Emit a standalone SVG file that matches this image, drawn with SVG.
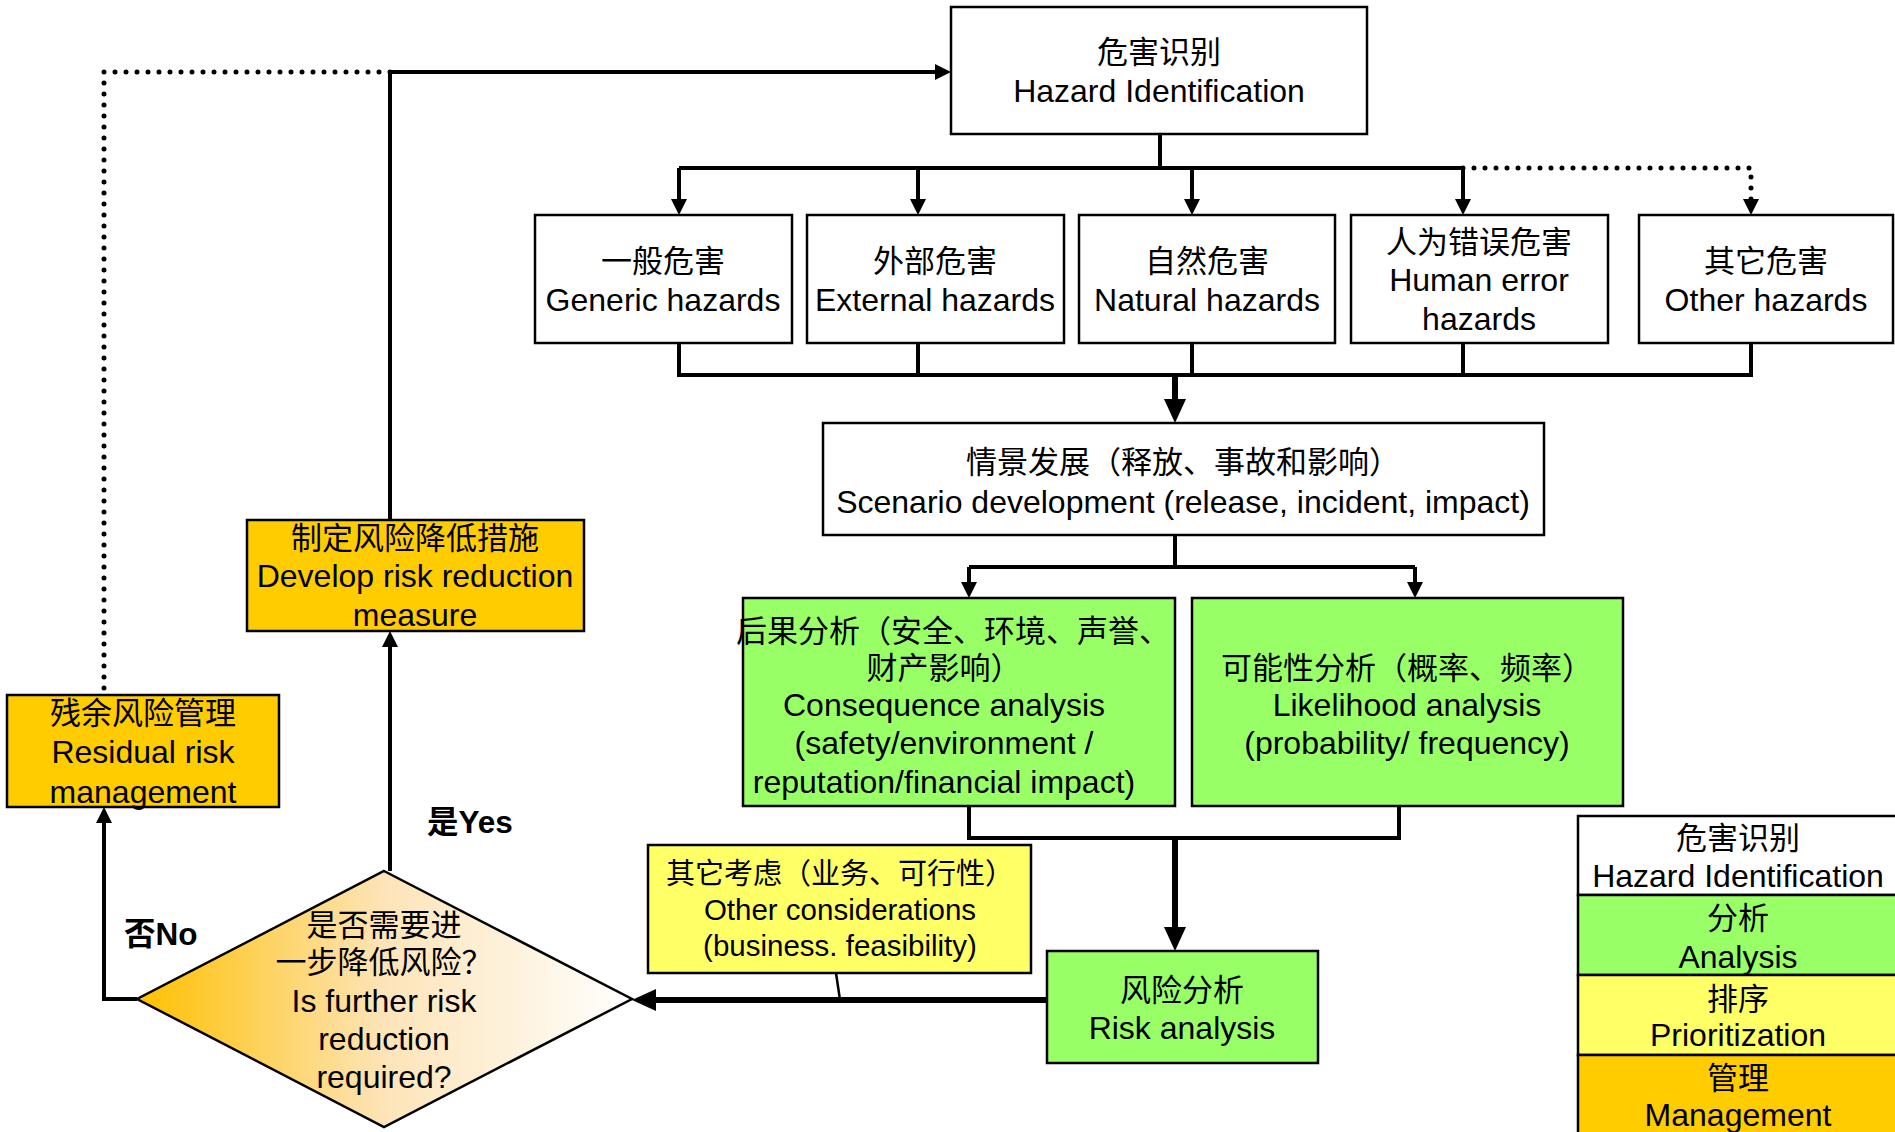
<svg xmlns="http://www.w3.org/2000/svg" width="1895" height="1132" viewBox="0 0 1895 1132">
<style>
.box{stroke:#000;stroke-width:2.5}
.w{fill:#fff}.g{fill:#99FF66}.y{fill:#FFFF66}.o{fill:#FFCC00}
text{font-family:"Liberation Sans","Noto Sans CJK SC",sans-serif;font-size:32px;fill:#000;text-anchor:middle}
.zh{font-size:31px}
.s28{font-size:29.5px}
.z28{font-size:29px}
.b{font-weight:bold;text-anchor:start;font-size:31.5px}
.c{stroke:#000;stroke-width:4;fill:none}
.th{stroke-width:6}
.dot{stroke-dasharray:0 11;stroke-linecap:round;stroke-width:5}
</style>
<defs>
<marker id="a" markerUnits="userSpaceOnUse" markerWidth="16" markerHeight="16" refX="2" refY="8" orient="auto"><path d="M0,0 L16,8 L0,16 z" fill="#000"/></marker>
<marker id="A" markerUnits="userSpaceOnUse" markerWidth="24" markerHeight="22" refX="2" refY="11" orient="auto"><path d="M0,0 L24,11 L0,22 z" fill="#000"/></marker>
<linearGradient id="dg" x1="0" y1="0" x2="1" y2="0">
<stop offset="0" stop-color="#FFC000"/><stop offset="0.5" stop-color="#FDE4B8"/><stop offset="1" stop-color="#FFFFFF"/>
</linearGradient>
</defs>

<g id="connectors">
<path class="c" d="M390,520 V72 H937" marker-end="url(#a)"/>
<path class="c dot" d="M390,72 H104 V695"/>
<path class="c" d="M1160,134 V168"/>
<path class="c" d="M679,168 H1463"/>
<path class="c" d="M679,168 V201" marker-end="url(#a)"/>
<path class="c" d="M918,168 V201" marker-end="url(#a)"/>
<path class="c" d="M1192,168 V201" marker-end="url(#a)"/>
<path class="c" d="M1463,168 V201" marker-end="url(#a)"/>
<path class="c dot" d="M1463,168 H1751 V201" marker-end="url(#a)"/>
<path class="c" d="M679,343 V375 H1751 V343 M918,343 V375 M1192,343 V375 M1463,343 V375"/>
<path class="c th" d="M1175,375 V401" marker-end="url(#A)"/>
<path class="c" d="M1175,535 V567 M969,567 H1415"/>
<path class="c" d="M969,567 V584" marker-end="url(#a)"/>
<path class="c" d="M1415,567 V584" marker-end="url(#a)"/>
<path class="c" d="M969,806 V838 H1399 V806"/>
<path class="c th" d="M1175,838 V929" marker-end="url(#A)"/>
<path class="c th" d="M1047,1000 H654" marker-end="url(#A)"/>
<path class="c" style="stroke-width:2.5" d="M836,973 L840,1000"/>
<path class="c" d="M390,871 V645" marker-end="url(#a)"/>
<path class="c" d="M137,999 H104 V821" marker-end="url(#a)"/>
</g>

<g id="hazard-identification">
<rect class="box w" x="951" y="7" width="416" height="127"/>
<text class="zh" x="1159" y="63">危害识别</text>
<text x="1159" y="102">Hazard Identification</text>
</g>
<g id="generic">
<rect class="box w" x="535" y="215" width="257" height="128"/>
<text class="zh" x="663" y="272">一般危害</text>
<text x="663" y="311">Generic hazards</text>
</g>
<g id="external">
<rect class="box w" x="807" y="215" width="257" height="128"/>
<text class="zh" x="935" y="272">外部危害</text>
<text x="935" y="311">External hazards</text>
</g>
<g id="natural">
<rect class="box w" x="1079" y="215" width="256" height="128"/>
<text class="zh" x="1207" y="272">自然危害</text>
<text x="1207" y="311">Natural hazards</text>
</g>
<g id="human">
<rect class="box w" x="1351" y="215" width="257" height="128"/>
<text class="zh" x="1479" y="253">人为错误危害</text>
<text x="1479" y="291">Human error</text>
<text x="1479" y="330">hazards</text>
</g>
<g id="other-hazards">
<rect class="box w" x="1639" y="215" width="254" height="128"/>
<text class="zh" x="1766" y="272">其它危害</text>
<text x="1766" y="311">Other hazards</text>
</g>
<g id="scenario">
<rect class="box w" x="823" y="423" width="721" height="112"/>
<text class="zh" x="1183" y="473">情景发展（释放、事故和影响）</text>
<text x="1183" y="513">Scenario development (release, incident, impact)</text>
</g>
<g id="consequence">
<rect class="box g" x="743" y="598" width="432" height="208"/>
<text class="zh" x="953" y="642">后果分析（安全、环境、声誉、</text>
<text class="zh" x="944" y="679">财产影响）</text>
<text x="944" y="716">Consequence analysis</text>
<text x="944" y="754">(safety/environment /</text>
<text x="944" y="793">reputation/financial impact)</text>
</g>
<g id="likelihood">
<rect class="box g" x="1192" y="598" width="431" height="208"/>
<text class="zh" x="1407" y="679">可能性分析（概率、频率）</text>
<text x="1407" y="716">Likelihood analysis</text>
<text x="1407" y="754">(probability/ frequency)</text>
</g>
<g id="risk-analysis">
<rect class="box g" x="1047" y="951" width="271" height="112"/>
<text class="zh" x="1182" y="1001">风险分析</text>
<text x="1182" y="1039">Risk analysis</text>
</g>
<g id="other-considerations">
<rect class="box y" x="648" y="845" width="383" height="128"/>
<text class="z28" x="840" y="884">其它考虑（业务、可行性）</text>
<text class="s28" x="840" y="920">Other considerations</text>
<text class="s28" x="840" y="956">(business. feasibility)</text>
</g>
<g id="decision">
<polygon points="384,871 632,999 384,1127 137,999" fill="url(#dg)" stroke="#000" stroke-width="2.5"/>
<text class="zh" x="384" y="936">是否需要进</text>
<text class="zh" x="384" y="973">一步降低风险？</text>
<text x="384" y="1012">Is further risk</text>
<text x="384" y="1050">reduction</text>
<text x="384" y="1088">required?</text>
</g>
<g id="develop">
<rect class="box o" x="247" y="520" width="337" height="111"/>
<text class="zh" x="415" y="549">制定风险降低措施</text>
<text x="415" y="587">Develop risk reduction</text>
<text x="415" y="626">measure</text>
</g>
<g id="residual">
<rect class="box o" x="7" y="695" width="272" height="112"/>
<text class="zh" x="143" y="724">残余风险管理</text>
<text x="143" y="763">Residual risk</text>
<text x="143" y="803">management</text>
</g>
<g id="labels">
<text class="b" x="427" y="833">是Yes</text>
<text class="b" x="124" y="945">否No</text>
</g>
<g id="legend">
<rect class="box w" x="1578" y="816" width="330" height="79"/>
<rect class="box g" x="1578" y="895" width="330" height="80"/>
<rect class="box y" x="1578" y="975" width="330" height="80"/>
<rect class="box o" x="1578" y="1055" width="330" height="90"/>
<text class="zh" x="1738" y="849">危害识别</text>
<text x="1738" y="887">Hazard Identification</text>
<text class="zh" x="1738" y="929">分析</text>
<text x="1738" y="968">Analysis</text>
<text class="zh" x="1738" y="1010">排序</text>
<text x="1738" y="1046">Prioritization</text>
<text class="zh" x="1738" y="1089">管理</text>
<text x="1738" y="1126">Management</text>
</g>
</svg>
